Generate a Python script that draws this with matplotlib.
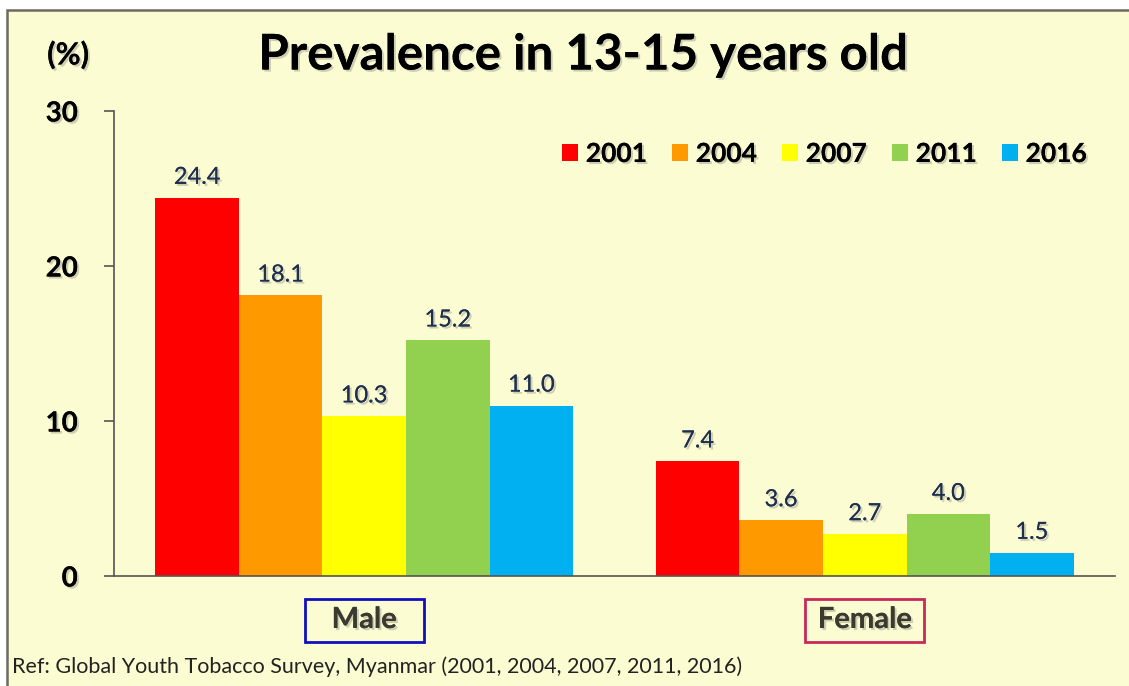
import matplotlib.pyplot as plt
import matplotlib.patheffects as pe
import matplotlib.transforms as mtransforms
from matplotlib.patches import Rectangle
import numpy as np

plt.rcParams['font.family'] = ['Lato', 'DejaVu Sans']

groups = ["Male", "Female"]
years = ["2001", "2004", "2007", "2011", "2016"]
male = [24.4, 18.1, 10.3, 15.2, 11.0]
female = [7.4, 3.6, 2.7, 4.0, 1.5]
colors = ["#FF0000", "#FF9900", "#FFFF00", "#92D050", "#00B0F0"]
box_colors = ["#1010C0", "#C8285A"]

bg = "#FCFCD2"
shadow = [pe.withSimplePatchShadow(offset=(1.5, -1.5), shadow_rgbFace="#777777", alpha=0.35), pe.Normal()]

fig = plt.figure(figsize=(11.29, 6.86), dpi=100, facecolor="white")
W, H = 1129, 686
# framed slide background
fig.patches.append(Rectangle((7 / W, -0.05), 1.1, (686 - 10) / H + 0.05, transform=fig.transFigure,
                             facecolor=bg, edgecolor="#6b6b60", linewidth=1.8, zorder=-1))

ax = fig.add_axes([114 / W, (686 - 576) / H, 1001 / W, 465 / H])
ax.set_facecolor("none")

x = np.arange(len(groups))
w = 0.167
vals = np.array([male, female])
for k, yr in enumerate(years):
    bars = ax.bar(x + (k - 2) * w, vals[:, k], width=w, color=colors[k], label=yr, zorder=2)
    for b, v in zip(bars, vals[:, k]):
        ax.text(b.get_x() + b.get_width() / 2, v + 0.9, f"{v:.1f}", ha="center", va="baseline",
                fontsize=17, color="#1F2F4F", path_effects=shadow)

ax.set_xlim(-0.5, 1.5)
ax.set_ylim(0, 30)
ax.set_yticks([0, 10, 20, 30])
ax.tick_params(axis="y", length=7, width=1.2, color="#555555", pad=19, labelsize=20)
for lab in ax.get_yticklabels():
    lab.set_fontweight("bold")
    lab.set_path_effects(shadow)
ax.set_xticks([])

# boxed category labels under each group
tr = mtransforms.blended_transform_factory(ax.transData, ax.transAxes)
for xi, name, ec in zip(x, groups, box_colors):
    ax.add_patch(Rectangle((xi - 0.119, -0.1419), 0.238, 0.0924, transform=tr, clip_on=False,
                           facecolor="none", edgecolor=ec, linewidth=2))
    ax.text(xi, -0.1118, name, transform=tr, ha="center", va="baseline", fontsize=21,
            fontweight="bold", color="#3a3a2e", path_effects=shadow)

for s in ["top", "right"]:
    ax.spines[s].set_visible(False)
for s in ["left", "bottom"]:
    ax.spines[s].set_color("#555555")
    ax.spines[s].set_linewidth(1.2)

leg = ax.legend(loc="center right", bbox_to_anchor=(1100 / W, 1 - 154 / H), bbox_transform=fig.transFigure,
                ncol=5, frameon=False, handlelength=0.6, handleheight=0.6, handletextpad=0.3,
                columnspacing=0.95, borderpad=0, prop={"weight": "bold", "size": 19})
for t in leg.get_texts():
    t.set_path_effects(shadow)

fig.text(583 / W, 1 - 55 / H, "Prevalence in 13-15 years old", ha="center", va="center",
         fontsize=35.5, fontweight="bold", path_effects=shadow)
fig.text(68 / W, 1 - 55 / H, "(%)", ha="center", va="center", fontsize=22, fontweight="bold",
         path_effects=shadow)
fig.text(12 / W, 1 - 667 / H, "Ref: Global Youth Tobacco Survey, Myanmar (2001, 2004, 2007, 2011, 2016)",
         ha="left", va="center", fontsize=15.5, color="#222222")

fig.savefig("out.png", dpi=100, facecolor="white")
